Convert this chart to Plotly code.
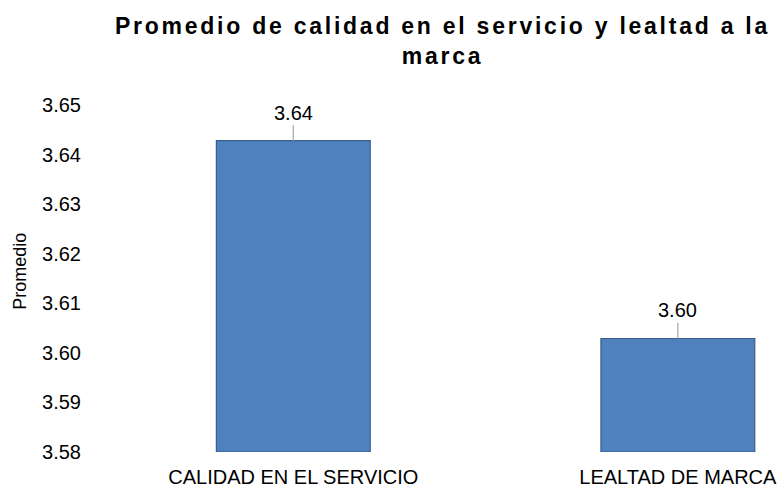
import plotly.graph_objects as go

categories = ["CALIDAD EN EL SERVICIO", "LEALTAD DE MARCA"]
values = [3.6428, 3.6029]
y_ticks = [3.58, 3.59, 3.60, 3.61, 3.62, 3.63, 3.64, 3.65]
y_base = 3.58
y_title = "Promedio"
title_lines = ["Promedio de calidad en el servicio y lealtad a la", "marca"]

FONT = "Liberation Sans, Arial, sans-serif"

fig = go.Figure()
fig.add_trace(go.Bar(
    x=categories,
    y=[v - y_base for v in values],
    base=y_base,
    marker=dict(color="#4F81BD", line=dict(color="#385D8A", width=1.2)),
    width=0.4,
    hoverinfo="x",
))

for c, v in zip(categories, values):
    fig.add_annotation(
        x=c, y=v, xref="x", yref="y",
        text=f"{v:.2f}",
        showarrow=True, arrowhead=0, arrowwidth=1.2, arrowcolor="#A6A6A6",
        ax=0, ay=-28, standoff=0,
        font=dict(family=FONT, size=20, color="#000000"),
    )

# y-axis title
fig.add_annotation(
    text=y_title, xref="paper", yref="paper",
    x=-0.1186, y=0.522, xanchor="center", yanchor="middle",
    textangle=-90, showarrow=False,
    font=dict(family=FONT, size=18, color="#000000"),
)

title_text = "<br>".join(
    f'<span style="letter-spacing:2.75px">{t}</span>' for t in title_lines
)

fig.update_layout(
    width=784, height=490,
    margin=dict(l=101, r=0, t=105, b=38),
    paper_bgcolor="white", plot_bgcolor="white",
    showlegend=False,
    title=dict(
        text=f"<b>{title_text}</b>",
        x=0.5, xref="paper", xanchor="center",
        y=0.93, yref="container", yanchor="top",
        font=dict(family=FONT, size=23, color="#000000"),
    ),
    xaxis=dict(
        type="category",
        range=[-0.5, 1.276],
        showgrid=False, showline=False, zeroline=False,
        ticks="",
        tickfont=dict(family=FONT, size=20, color="#000000"),
        ticklabelstandoff=11,
    ),
    yaxis=dict(
        range=[3.58, 3.65],
        tickvals=y_ticks,
        ticktext=[f"{t:.2f}" for t in y_ticks],
        showgrid=False, showline=False, zeroline=False,
        ticks="",
        tickfont=dict(family=FONT, size=20, color="#000000"),
        ticklabelstandoff=19,
        automargin=False,
    ),
)

fig.write_html(
    "out.html",
    config={"displayModeBar": False},
    post_script="document.body.style.margin='0px';",
)
